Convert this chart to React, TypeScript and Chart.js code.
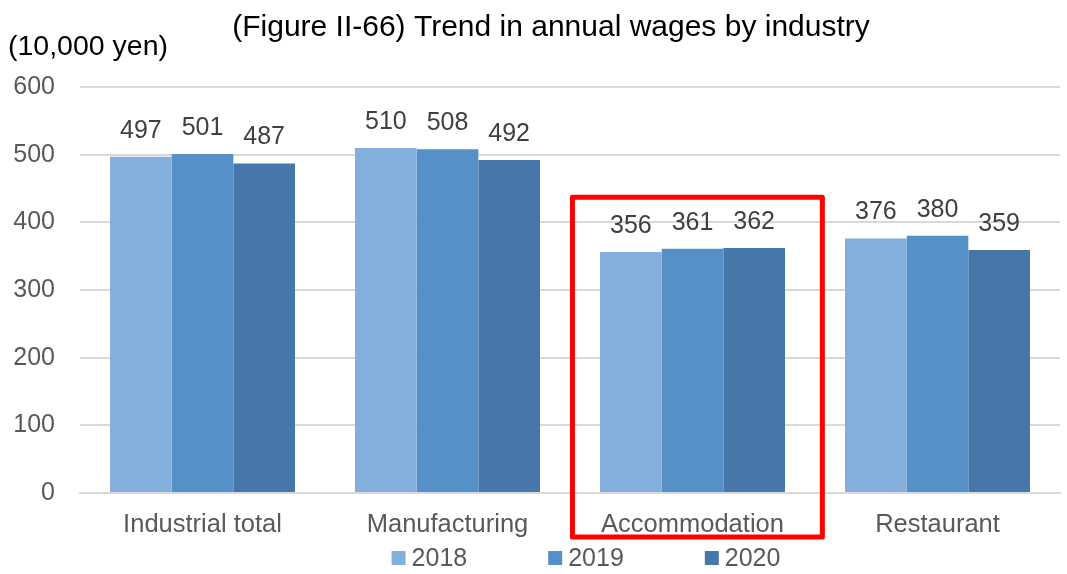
import React, { useEffect, useRef } from "react";
import { Chart, registerables } from "chart.js";

Chart.register(...registerables);

const categories = ["Industrial total", "Manufacturing", "Accommodation", "Restaurant"];
const seriesNames = ["2018", "2019", "2020"];
const wages2018 = [497, 510, 356, 376];
const wages2019 = [501, 508, 361, 380];
const wages2020 = [487, 492, 362, 359];
const seriesColors = ["#84AEDC", "#5591C8", "#4677A8"];
const yMin = 0;
const yMax = 600;
const yStep = 100;
const titleText = "(Figure II-66) Trend in annual wages by industry";
const unitText = "(10,000 yen)";
const highlightIndex = 2;
const highlightTopValue = 437;

const FONT = "'Liberation Sans', Arial, sans-serif";

const decorPlugin = {
  id: "decor",
  afterDatasetsDraw(chart: any) {
    const ctx = chart.ctx;
    ctx.save();
    ctx.font = `25px ${FONT}`;
    ctx.fillStyle = "#404040";
    ctx.textAlign = "center";
    ctx.textBaseline = "middle";
    chart.data.datasets.forEach((ds: any, di: number) => {
      const meta = chart.getDatasetMeta(di);
      meta.data.forEach((bar: any, i: number) => {
        ctx.fillText(String(ds.data[i]), bar.x, bar.y - 26);
      });
    });
    ctx.restore();
  },
  afterDraw(chart: any) {
    const ctx = chart.ctx;
    const area = chart.chartArea;
    const xs = chart.scales.x;
    const ys = chart.scales.y;
    ctx.save();
    // title
    ctx.fillStyle = "#000000";
    ctx.font = `30px ${FONT}`;
    ctx.textAlign = "center";
    ctx.textBaseline = "middle";
    ctx.fillText(titleText, (area.left + area.right) / 2 - 19, 28);
    // unit
    ctx.font = `28.5px ${FONT}`;
    ctx.textAlign = "left";
    ctx.fillText(unitText, 8, 47);

    // highlight rectangle
    const catW = (area.right - area.left) / categories.length;
    const cx = xs.getPixelForValue(highlightIndex);
    const left = cx - catW * 0.49;
    const right = cx + catW * 0.53;
    const top = ys.getPixelForValue(highlightTopValue);
    const bottom = area.bottom + 44;
    ctx.strokeStyle = "#FF0000";
    ctx.lineWidth = 5;
    ctx.lineJoin = "round";
    ctx.strokeRect(left, top, right - left, bottom - top);

    // legend
    ctx.font = `25px ${FONT}`;
    ctx.textBaseline = "middle";
    ctx.textAlign = "left";
    const box = 14;
    const gap = 6;
    const spacing = 81;
    const widths = chart.data.datasets.map((d: any) => box + gap + ctx.measureText(d.label).width);
    const total = widths.reduce((a: number, b: number) => a + b, 0) + spacing * (widths.length - 1);
    let x = (area.left + area.right) / 2 + 16 - total / 2;
    const ly = 558;
    chart.data.datasets.forEach((d: any, i: number) => {
      ctx.fillStyle = d.backgroundColor;
      ctx.fillRect(x, ly - box / 2, box, box);
      ctx.fillStyle = "#595959";
      ctx.fillText(d.label, x + box + gap, ly + 1);
      x += widths[i] + spacing;
    });
    ctx.restore();
  },
};

export default function App() {
  const canvasRef = useRef<HTMLCanvasElement | null>(null);

  useEffect(() => {
    document.body.style.margin = "0";
    const canvas = canvasRef.current;
    if (!canvas) return;
    const chart = new Chart(canvas, {
      type: "bar",
      data: {
        labels: categories,
        datasets: [
          { label: seriesNames[0], data: wages2018, backgroundColor: seriesColors[0] },
          { label: seriesNames[1], data: wages2019, backgroundColor: seriesColors[1] },
          { label: seriesNames[2], data: wages2020, backgroundColor: seriesColors[2] },
        ],
      },
      options: {
        responsive: false,
        animation: false,
        devicePixelRatio: 1,
        layout: { padding: { top: 87, left: 8, right: 7, bottom: 0 } },
        datasets: {
          bar: { categoryPercentage: 0.755, barPercentage: 1 },
        },
        plugins: {
          legend: { display: false },
          title: { display: false },
          tooltip: { enabled: false },
        },
        scales: {
          x: {
            grid: { display: false, drawTicks: false },
            border: { display: true, color: "#d9d9d9", width: 2 },
            ticks: {
              color: "#595959",
              font: { family: FONT, size: 25.5 },
              padding: 17,
            },
            afterFit(scale: any) {
              scale.height = 81;
            },
          },
          y: {
            min: yMin,
            max: yMax,
            ticks: {
              stepSize: yStep,
              color: "#595959",
              font: { family: FONT, size: 25 },
              padding: 25,
            },
            grid: { color: "#d9d9d9", lineWidth: 2, drawTicks: false },
            border: { display: false },
            afterFit(scale: any) {
              scale.width = 72;
            },
          },
        },
      },
      plugins: [decorPlugin],
    });
    return () => chart.destroy();
  }, []);

  return (
    <div style={{ width: 1067, height: 574 }}>
      <canvas ref={canvasRef} width={1067} height={574} style={{ display: "block" }} />
    </div>
  );
}
